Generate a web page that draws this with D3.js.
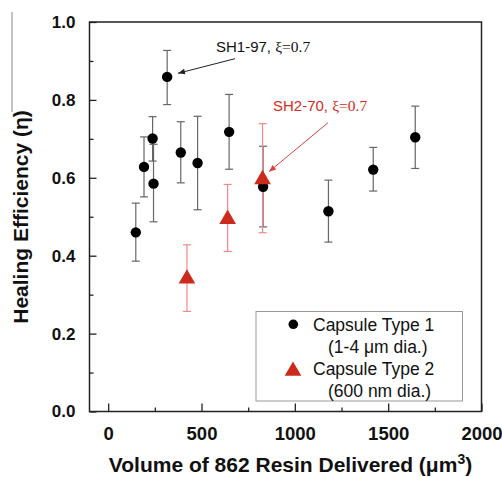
<!DOCTYPE html>
<html><head><meta charset="utf-8">
<script src="https://cdn.jsdelivr.net/npm/d3@7"></script>
<style>body{margin:0;background:#fff}svg{display:block}text{font-family:"Liberation Sans",Arial,sans-serif}</style>
</head><body>
<script>
// Capsule Type 1 (black circles)
const type1X   = [148, 192, 238, 243, 316, 389, 479, 648, 830, 1180, 1420, 1645];
const type1Y   = [0.460, 0.628, 0.701, 0.585, 0.859, 0.665, 0.638, 0.718, 0.577, 0.514, 0.621, 0.704];
const type1Hi  = [0.535, 0.705, 0.757, 0.686, 0.927, 0.744, 0.758, 0.814, 0.681, 0.594, 0.678, 0.784];
const type1Lo  = [0.386, 0.551, 0.643, 0.487, 0.788, 0.587, 0.518, 0.622, 0.474, 0.435, 0.566, 0.624];
// Capsule Type 2 (red triangles)
const type2X   = [422, 640, 827];
const type2Y   = [0.347, 0.500, 0.602];
const type2Hi  = [0.428, 0.583, 0.739];
const type2Lo  = [0.257, 0.411, 0.459];
const xTicks = [0, 500, 1000, 1500, 2000];
const xMinor = [250, 750, 1250, 1750];
const yTicks = [0.0, 0.2, 0.4, 0.6, 0.8, 1.0];
const yMinor = [0.1, 0.3, 0.5, 0.7, 0.9];

const W = 502, H = 477;
const m = {l: 89.5, r: 481.5, t: 22, b: 411.5};
const svg = d3.select("body").append("svg").attr("width", W).attr("height", H);
const x = d3.scaleLinear().domain([-100, 2000]).range([m.l, m.r]);
const y = d3.scaleLinear().domain([0, 1]).range([m.b, m.t]);

const red = "#cc2a1c";
const defs = svg.append("defs");
function marker(id, col) {
  defs.append("marker").attr("id", id).attr("viewBox", "0 0 10 10").attr("refX", 10).attr("refY", 5)
    .attr("markerWidth", 9).attr("markerHeight", 7).attr("markerUnits", "userSpaceOnUse").attr("orient", "auto")
    .append("path").attr("d", "M0,1 L10,5 L0,9 Z").attr("fill", col);
}
marker("ab", "#222"); marker("ar", "#e04040");

// artifact line at top left
svg.append("line").attr("x1", 12).attr("x2", 12).attr("y1", 12).attr("y2", 112).attr("stroke", "#888").attr("stroke-width", 1);

// error bars
function errBars(xs, hi, lo, col) {
  const g = svg.append("g").attr("stroke", col).attr("stroke-width", 1.2);
  xs.forEach((v, i) => {
    g.append("line").attr("x1", x(v)).attr("x2", x(v)).attr("y1", y(hi[i])).attr("y2", y(lo[i]));
    [hi[i], lo[i]].forEach(e => g.append("line").attr("x1", x(v) - 4).attr("x2", x(v) + 4).attr("y1", y(e)).attr("y2", y(e)));
  });
}
errBars(type1X, type1Hi, type1Lo, "#666");
errBars(type2X, type2Hi, type2Lo, "#f08a8a");

// markers
svg.append("g").selectAll("circle").data(type1X).join("circle")
  .attr("cx", d => x(d)).attr("cy", (d, i) => y(type1Y[i])).attr("r", 5.2).attr("fill", "#000");
const tri = d3.symbol().type(d3.symbolTriangle).size(120);
svg.append("g").selectAll("path").data(type2X).join("path")
  .attr("d", tri).attr("transform", (d, i) => `translate(${x(d)},${y(type2Y[i]) + 2.4})`).attr("fill", red);

// frame
svg.append("rect").attr("x", m.l).attr("y", m.t).attr("width", m.r - m.l).attr("height", m.b - m.t)
  .attr("fill", "none").attr("stroke", "#222").attr("stroke-width", 1.5);

// axes ticks (inward)
const xa = svg.append("g").attr("transform", `translate(0,${m.b})`)
  .call(d3.axisBottom(x).tickValues(xTicks).tickSize(-8).tickFormat(d3.format("d")).tickPadding(15));
xa.select(".domain").remove();
xa.selectAll("text").attr("font-size", 18.5).attr("font-weight", "bold").attr("fill", "#111");
const xm = svg.append("g").attr("transform", `translate(0,${m.b})`)
  .call(d3.axisBottom(x).tickValues(xMinor).tickSize(-4).tickFormat(""));
xm.select(".domain").remove();

const ya = svg.append("g").attr("transform", `translate(${m.l},0)`)
  .call(d3.axisLeft(y).tickValues(yTicks).tickSize(-7).tickFormat(d3.format(".1f")).tickPadding(14));
ya.select(".domain").remove();
ya.selectAll("text").attr("font-size", 17).attr("font-weight", "bold").attr("fill", "#111");
const ym = svg.append("g").attr("transform", `translate(${m.l},0)`)
  .call(d3.axisLeft(y).tickValues(yMinor).tickSize(-4).tickFormat(""));
ym.select(".domain").remove();
svg.selectAll(".tick line").attr("stroke", "#222").attr("stroke-width", 1.3);

// axis titles
const xt = svg.append("text").attr("x", 290.5).attr("y", 472).attr("text-anchor", "middle")
  .attr("font-size", 21).attr("font-weight", "bold").attr("fill", "#111");
xt.append("tspan").text("Volume of 862 Resin Delivered (μm");
xt.append("tspan").text("3").attr("font-size", 14).attr("dy", -8);
xt.append("tspan").text(")").attr("dy", 8);

svg.append("text").attr("transform", "translate(28,217) rotate(-90)").attr("text-anchor", "middle")
  .attr("font-size", 21).attr("font-weight", "bold").attr("fill", "#111").text("Healing Efficiency (η)");

// annotations
const a1 = svg.append("text").attr("x", 216).attr("y", 52).attr("font-size", 15).attr("fill", "#111");
a1.append("tspan").text("SH1-97, ");
a1.append("tspan").text("ξ=0.7").attr("font-family", "Liberation Serif, serif").attr("font-size", 15.5);
svg.append("line").attr("x1", 235).attr("y1", 58.7).attr("x2", 178).attr("y2", 73.3)
  .attr("stroke", "#222").attr("stroke-width", 1).attr("marker-end", "url(#ab)");

const a2 = svg.append("text").attr("x", 273).attr("y", 111).attr("font-size", 15).attr("fill", "#d42a20");
a2.append("tspan").text("SH2-70, ");
a2.append("tspan").text("ξ=0.7").attr("font-family", "Liberation Serif, serif").attr("font-size", 15.5);
svg.append("line").attr("x1", 328).attr("y1", 122.7).attr("x2", 269).attr("y2", 171.7)
  .attr("stroke", "#e04040").attr("stroke-width", 1).attr("marker-end", "url(#ar)");

// legend
const lg = svg.append("g");
lg.append("rect").attr("x", 256).attr("y", 311.5).attr("width", 206.5).attr("height", 89.5)
  .attr("fill", "#fff").attr("stroke", "#999").attr("stroke-width", 1);
lg.append("circle").attr("cx", 293.3).attr("cy", 324.3).attr("r", 4.8).attr("fill", "#000");
lg.append("path").attr("d", tri).attr("transform", "translate(293,371)").attr("fill", red);
const lt = [["Capsule Type 1", 313, 330.5], ["(1-4 μm dia.)", 328, 353], ["Capsule Type 2", 313, 375], ["(600 nm dia.)", 328, 397]];
lt.forEach(t => lg.append("text").attr("x", t[1]).attr("y", t[2]).attr("font-size", 17.5).attr("fill", "#111").text(t[0]));
</script>
</body></html>
